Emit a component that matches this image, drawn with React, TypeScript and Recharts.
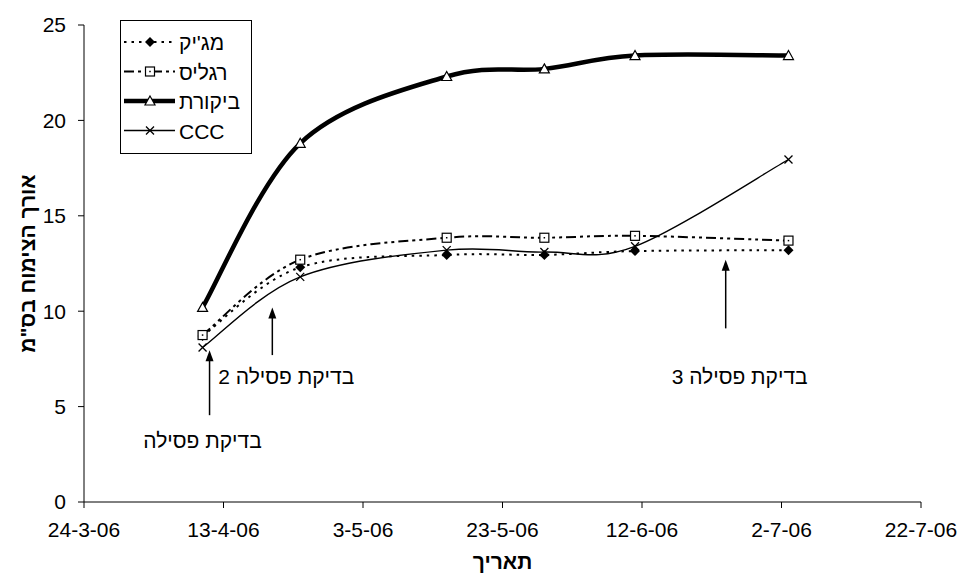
import React from 'react';
import { LineChart, Line, XAxis, YAxis, Legend, ReferenceLine, ReferenceDot, Label } from 'recharts';

// measurement dates (d-m-yy) and plant height in cm
const dates = ['10-4-06', '24-4-06', '15-5-06', '29-5-06', '11-6-06', '3-7-06'];
const magic = [8.7, 12.3, 12.95, 12.95, 13.15, 13.2];
const regalis = [8.75, 12.7, 13.85, 13.85, 13.95, 13.7];
const control = [10.2, 18.8, 22.3, 22.7, 23.4, 23.4];
const ccc = [8.1, 11.8, 13.2, 13.1, 13.4, 17.95];

const xTickLabels = ['24-3-06', '13-4-06', '3-5-06', '23-5-06', '12-6-06', '2-7-06', '22-7-06'];
const yTicks = [0, 5, 10, 15, 20, 25];

// "בדיקת פסילה" arrows and notes
const arrowDates = ['11-4-06', '20-4-06', '24-6-06'];
const arrowFrom = [4.55, 7.7, 9.1];
const arrowTo = [7.95, 10.2, 12.7];
const noteTexts = ['בדיקת פסילה', 'בדיקת פסילה  2', 'בדיקת פסילה 3'];
const noteDates = ['10-4-06', '22-4-06', '26-6-06'];
const noteY = [3.2, 6.55, 6.55];

const FONT = '"Liberation Sans", Arial, sans-serif';

const toDay = (s: string) => {
    const [d, m, y] = s.split('-').map(Number);
    return Date.UTC(2000 + y, m - 1, d) / 86400000;
};

const xTicks = xTickLabels.map(toDay);

const data = dates.map((d, i) => ({
    day: toDay(d),
    magic: magic[i],
    regalis: regalis[i],
    control: control[i],
    ccc: ccc[i],
}));

const series = [
    { key: 'magic', name: "מג'יק", width: 2, dash: '2.5 5', marker: 'diamond' },
    { key: 'regalis', name: 'רגליס', width: 2, dash: '10 4 3 4 3 4', marker: 'square' },
    { key: 'control', name: 'ביקורת', width: 4.5, dash: undefined, marker: 'triangle' },
    { key: 'ccc', name: 'CCC', width: 1.4, dash: undefined, marker: 'cross' },
];

// Excel-like smoothing (Catmull-Rom through the points)
const excelSmooth = (context: any) => {
    let pts: number[][] = [];
    return {
        areaStart() {},
        areaEnd() {},
        lineStart() {
            pts = [];
        },
        point(x: number, y: number) {
            pts.push([+x, +y]);
        },
        lineEnd() {
            if (!pts.length) return;
            context.moveTo(pts[0][0], pts[0][1]);
            for (let i = 0; i < pts.length - 1; i++) {
                const p0 = pts[Math.max(i - 1, 0)];
                const p1 = pts[i];
                const p2 = pts[i + 1];
                const p3 = pts[Math.min(i + 2, pts.length - 1)];
                context.bezierCurveTo(
                    p1[0] + (p2[0] - p0[0]) / 6,
                    p1[1] + (p2[1] - p0[1]) / 6,
                    p2[0] - (p3[0] - p1[0]) / 6,
                    p2[1] - (p3[1] - p1[1]) / 6,
                    p2[0],
                    p2[1]
                );
            }
        },
    };
};

const Marker = ({ kind, x, y }: { kind: string; x: number; y: number }) => {
    switch (kind) {
        case 'diamond':
            return <path d={`M${x},${y - 5}L${x + 5},${y}L${x},${y + 5}L${x - 5},${y}Z`} fill="#000" />;
        case 'square':
            return (
                <g>
                    <rect x={x - 4.5} y={y - 4.5} width={9} height={9} fill="#fff" stroke="#000" strokeWidth={1.2} />
                    <rect x={x - 0.75} y={y - 0.75} width={1.5} height={1.5} fill="#000" />
                </g>
            );
        case 'triangle':
            return <path d={`M${x},${y - 5}L${x + 5},${y + 4}L${x - 5},${y + 4}Z`} fill="#fff" stroke="#000" strokeWidth={1.2} />;
        default:
            return <path d={`M${x - 4},${y - 4}L${x + 4},${y + 4}M${x - 4},${y + 4}L${x + 4},${y - 4}`} stroke="#000" strokeWidth={1.3} />;
    }
};

const Arrow = (p: any) => {
    const { x1, y1, x2, y2 } = p;
    return (
        <g>
            <line x1={x1} y1={y1} x2={x2} y2={y2 + 9} stroke="#000" strokeWidth={1.5} />
            <path d={`M${x2},${y2}L${x2 + 4},${y2 + 11}L${x2 - 4},${y2 + 11}Z`} fill="#000" />
        </g>
    );
};

const LegendBox = () => (
    <svg width={132} height={134} style={{ display: 'block' }}>
        <rect x={0.5} y={0.5} width={131} height={133} fill="#fff" stroke="#000" strokeWidth={1} />
        {series.map((s, i) => {
            const cy = 22 + i * 29.5;
            return (
                <g key={s.key}>
                    <line x1={4} y1={cy} x2={55} y2={cy} stroke="#000" strokeWidth={s.width} strokeDasharray={s.dash} />
                    <Marker kind={s.marker} x={30} y={cy} />
                    <text x={59} y={cy + 8} fontSize={21} fontFamily={FONT} fill="#000">
                        {s.name}
                    </text>
                </g>
            );
        })}
    </svg>
);

export default function App() {
    return (
        <div style={{ position: 'absolute', left: 0, top: 0, width: 960, height: 580, background: '#fff' }}>
            <LineChart width={960} height={580} data={data} margin={{ top: 25, right: 39, left: 0, bottom: 0 }}>
                <XAxis
                    dataKey="day"
                    type="number"
                    domain={[xTicks[0], xTicks[xTicks.length - 1]]}
                    ticks={xTicks}
                    tickFormatter={(v: number) => xTickLabels[xTicks.indexOf(v)]}
                    height={78}
                    stroke="#000"
                    tickSize={6}
                    tickMargin={14}
                    tick={{ fill: '#000', fontSize: 21, fontFamily: FONT }}
                    interval={0}
                >
                    <Label value="תאריך" position="insideBottom" offset={11} fill="#000" fontSize={21} fontWeight="bold" fontFamily={FONT} />
                </XAxis>
                <YAxis
                    domain={[0, 25]}
                    ticks={yTicks}
                    width={84}
                    stroke="#000"
                    tickSize={6}
                    tickMargin={12}
                    tick={{ fill: '#000', fontSize: 21, fontFamily: FONT }}
                    interval={0}
                >
                    <Label
                        value='אורך הצימוח בס"מ'
                        angle={-90}
                        position="insideLeft"
                        offset={28}
                        fill="#000"
                        fontSize={21}
                        fontWeight="bold"
                        fontFamily={FONT}
                        style={{ textAnchor: 'middle' }}
                    />
                </YAxis>
                <Legend
                    verticalAlign="middle"
                    align="center"
                    layout="horizontal"
                    wrapperStyle={{ left: 120, top: 20, width: 132, height: 134 }}
                    content={() => <LegendBox />}
                />
                {series.map((s) => (
                    <Line
                        key={s.key}
                        dataKey={s.key}
                        name={s.name}
                        type={excelSmooth as any}
                        stroke="#000"
                        strokeWidth={s.width}
                        strokeDasharray={s.dash}
                        isAnimationActive={false}
                        dot={(p: any) => <Marker key={`${s.key}-${p.index}`} kind={s.marker} x={p.cx} y={p.cy} />}
                        activeDot={false}
                    />
                ))}
                {arrowDates.map((d, i) => (
                    <ReferenceLine
                        key={`arrow-${i}`}
                        segment={[
                            { x: toDay(d), y: arrowFrom[i] },
                            { x: toDay(d), y: arrowTo[i] },
                        ]}
                        shape={Arrow}
                    />
                ))}
                {noteTexts.map((t, i) => (
                    <ReferenceDot
                        key={`note-${i}`}
                        x={toDay(noteDates[i])}
                        y={noteY[i]}
                        shape={(p: any) => (
                            <text x={p.cx} y={p.cy} dy="0.35em" textAnchor="middle" fontSize={21} fontFamily={FONT} fill="#000">
                                {t}
                            </text>
                        )}
                    />
                ))}
            </LineChart>
        </div>
    );
}
